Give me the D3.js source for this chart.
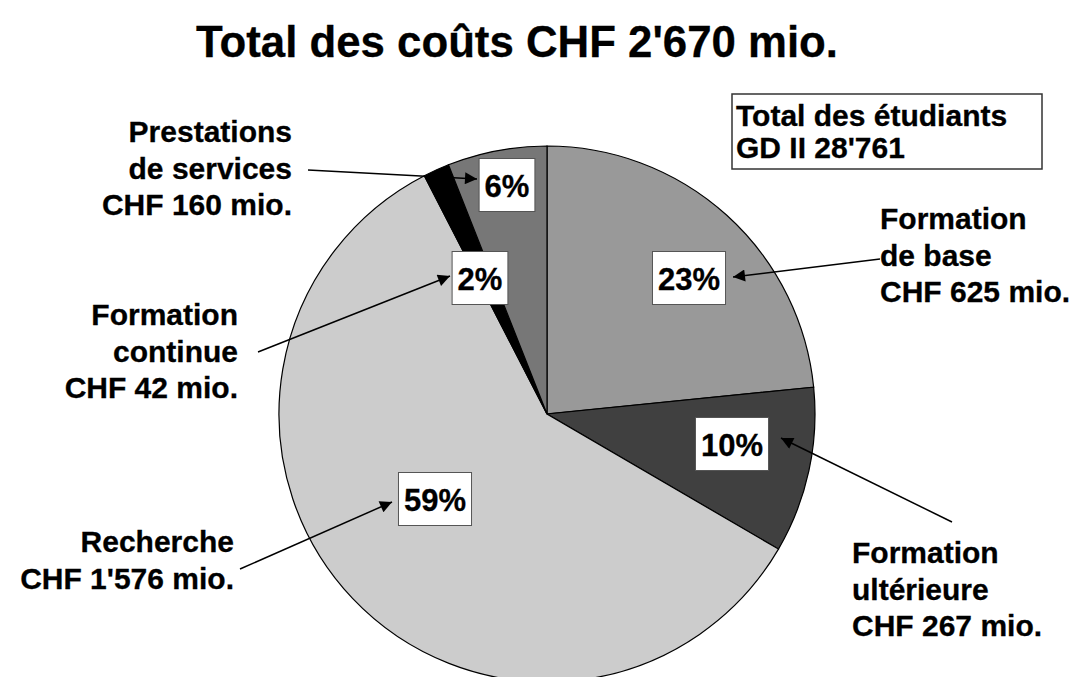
<!DOCTYPE html>
<html>
<head>
<meta charset="utf-8">
<script src="https://cdn.jsdelivr.net/npm/d3@7"></script>
<style>
  body { margin: 0; background: #fff; }
  text { font-family: "Liberation Sans", Arial, sans-serif; font-weight: bold; fill: #000; stroke: #000; stroke-width: 0.3px; }
</style>
</head>
<body>
<div id="chart"></div>
<script>
// data
var categories = ["Formation de base", "Formation ultérieure", "Recherche", "Formation continue", "Prestations de services"];
var costs = [625, 267, 1576, 42, 160];          // CHF mio.
var labelLines = [
  ["Formation", "de base", "CHF 625 mio."],
  ["Formation", "ultérieure", "CHF 267 mio."],
  ["Recherche", "CHF 1'576 mio."],
  ["Formation", "continue", "CHF 42 mio."],
  ["Prestations", "de services", "CHF 160 mio."]
];
var title = "Total des coûts CHF 2'670 mio.";
var studentLines = ["Total des étudiants", "GD II 28'761"];

var colors = ["#999999", "#404040", "#cccccc", "#000000", "#777777"];

// layout of the annotations (label text, percent box, arrow start/end)
var layout = [
  {tx: 880, ty: 229, anchor: "start", box: [689, 278], from: [880, 259], to: [733, 277]},
  {tx: 852, ty: 563, anchor: "start", box: [732, 444], from: [952, 522], to: [781, 438]},
  {tx: 234, ty: 552, anchor: "end",   box: [435, 499], from: [240, 569], to: [392, 502]},
  {tx: 238, ty: 325, anchor: "end",   box: [480, 278], from: [258, 352], to: [450, 276]},
  {tx: 292, ty: 142, anchor: "end",   box: [507, 185], from: [308, 170], to: [477, 179]}
];

var width = 1085, height = 677;
var cx = 547, cy = 414, radius = 268;

var svg = d3.select("#chart")
  .append("svg")
    .attr("width", width)
    .attr("height", height);

svg.append("defs").append("marker")
    .attr("id", "arrow")
    .attr("viewBox", "0 0 10 10")
    .attr("refX", 10).attr("refY", 5)
    .attr("markerWidth", 15).attr("markerHeight", 12)
    .attr("markerUnits", "userSpaceOnUse")
    .attr("orient", "auto")
  .append("path")
    .attr("d", "M0,0 L10,5 L0,10 Z")
    .attr("fill", "#000");

// title
svg.append("text")
   .attr("x", 517)
   .attr("y", 57)
   .attr("text-anchor", "middle")
   .attr("font-size", "45px")
   .attr("textLength", 642)
   .attr("lengthAdjust", "spacingAndGlyphs")
   .text(title);

// pie
var total = d3.sum(costs);
var pie = d3.pie().sort(null).value(function(d) { return d; });
var arc = d3.arc().innerRadius(0).outerRadius(radius);

var g = svg.append("g")
    .attr("transform", "translate(" + cx + "," + cy + ")");

g.selectAll("path")
    .data(pie(costs))
    .enter()
    .append("path")
      .attr("d", arc)
      .attr("fill", function(d, i) { return colors[i]; })
      .attr("stroke", "#000")
      .attr("stroke-width", 1.2);

// arrows
svg.selectAll("line.arrow")
    .data(layout)
    .enter()
    .append("line")
      .attr("class", "arrow")
      .attr("x1", function(d) { return d.from[0]; })
      .attr("y1", function(d) { return d.from[1]; })
      .attr("x2", function(d) { return d.to[0]; })
      .attr("y2", function(d) { return d.to[1]; })
      .attr("stroke", "#000")
      .attr("stroke-width", 1.5)
      .attr("marker-end", "url(#arrow)");

// percent boxes
var pct = svg.selectAll("g.pct")
    .data(costs)
    .enter()
    .append("g")
      .attr("class", "pct")
      .attr("transform", function(d, i) { return "translate(" + layout[i].box[0] + "," + layout[i].box[1] + ")"; });

pct.append("text")
    .attr("text-anchor", "middle")
    .attr("y", 11.5)
    .attr("font-size", "31px")
    .text(function(d) { return Math.round(d / total * 100) + "%"; });

pct.each(function() {
  var t = d3.select(this).select("text");
  var w = t.node().getComputedTextLength() + 11;
  d3.select(this).insert("rect", "text")
    .attr("x", -w / 2)
    .attr("y", -26.5)
    .attr("width", w)
    .attr("height", 53)
    .attr("fill", "#fff")
    .attr("stroke", "#555")
    .attr("stroke-width", 1);
});

// category labels
var labels = svg.selectAll("text.cat")
    .data(labelLines)
    .enter()
    .append("text")
      .attr("class", "cat")
      .attr("font-size", "30px")
      .attr("text-anchor", function(d, i) { return layout[i].anchor; })
      .attr("transform", function(d, i) { return "translate(" + layout[i].tx + "," + layout[i].ty + ")"; });

labels.selectAll("tspan")
    .data(function(d) { return d; })
    .enter()
    .append("tspan")
      .attr("x", 0)
      .attr("y", function(d, j) { return j * 36.5; })
      .text(function(d) { return d; });

// students box
svg.append("rect")
   .attr("x", 732)
   .attr("y", 94)
   .attr("width", 310)
   .attr("height", 75)
   .attr("fill", "#fff")
   .attr("stroke", "#333")
   .attr("stroke-width", 1.5);

svg.append("text")
   .attr("font-size", "30px")
   .selectAll("tspan")
   .data(studentLines)
   .enter()
   .append("tspan")
     .attr("x", 736)
     .attr("y", function(d, j) { return 126 + j * 32; })
     .text(function(d) { return d; });
</script>
</body>
</html>
